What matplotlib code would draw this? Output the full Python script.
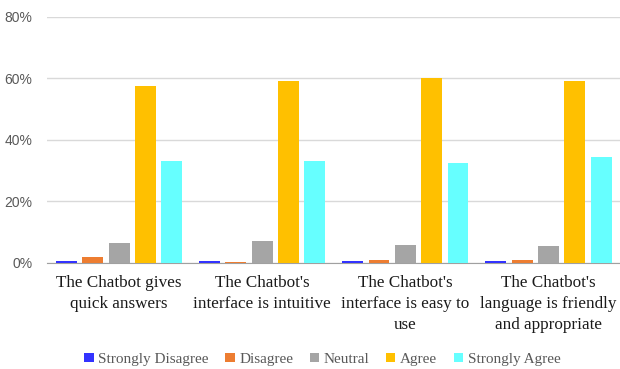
import numpy as np
import matplotlib.pyplot as plt
from matplotlib.ticker import PercentFormatter

categories = ["The Chatbot gives\nquick answers",
              "The Chatbot's\ninterface is intuitive",
              "The Chatbot's\ninterface is easy to\nuse",
              "The Chatbot's\nlanguage is friendly\nand appropriate"]
series = ["Strongly Disagree", "Disagree", "Neutral", "Agree", "Strongly Agree"]
strongly_disagree = [0.5, 0.5, 0.5, 0.5]
disagree = [2.0, 0.4, 1.0, 1.0]
neutral = [6.5, 7.0, 6.0, 5.5]
agree = [57.6, 59.2, 60.0, 59.1]
strongly_agree = [33.2, 33.2, 32.5, 34.4]
colors = ["#3333FF", "#ED7D31", "#A5A5A5", "#FFC000", "#66FFFF"]

values = [strongly_disagree, disagree, neutral, agree, strongly_agree]

fig = plt.figure(figsize=(6.2, 3.69), dpi=100)
ax = fig.add_axes([0.0766, 0.2873, 0.9234, 0.6667])

x = np.arange(len(categories))
step = 0.184
width = 0.146
for j, (name, vals) in enumerate(zip(series, values)):
    ax.bar(x + (j - 2) * step, vals, width, color=colors[j], label=name, zorder=3)

ax.set_xlim(-0.5, len(categories) - 0.5)
ax.set_ylim(0, 80)
ax.set_yticks([0, 20, 40, 60, 80])
ax.yaxis.set_major_formatter(PercentFormatter(decimals=0))
ax.grid(axis='y', color='#D9D9D9', linewidth=1, zorder=0)
for s in ['top', 'right', 'left']:
    ax.spines[s].set_visible(False)
ax.spines['bottom'].set_color('#A0A0A0')
ax.tick_params(axis='both', length=0)
ax.tick_params(axis='y', labelcolor='#595959', labelsize=10, pad=11)
for lab in ax.get_yticklabels():
    lab.set_fontfamily('Liberation Sans')
ax.set_xticks(x)
ax.set_xticklabels(categories, fontfamily='Liberation Serif', fontsize=12.3, color='#1a1a1a', linespacing=1.38)
ax.tick_params(axis='x', pad=9)

fig.legend(loc='center', bbox_to_anchor=(0.52, 0.026), ncol=5, frameon=False,
           prop={'family': 'Liberation Serif', 'size': 11}, labelcolor='#595959',
           handlelength=0.6, handleheight=0.6, handletextpad=0.3, columnspacing=1.1)

plt.savefig('out.png', dpi=100)
